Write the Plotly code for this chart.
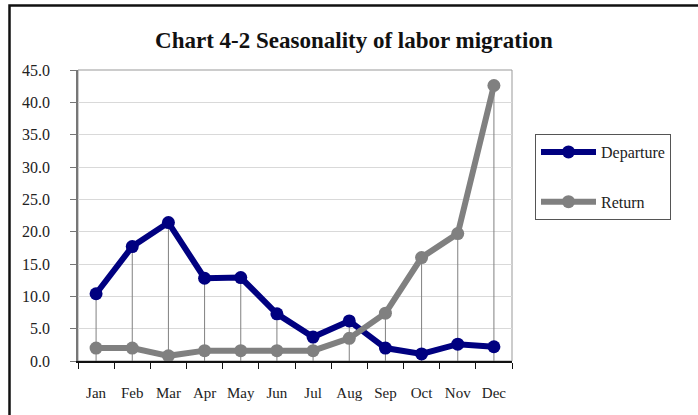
import plotly.graph_objects as go

months = ["Jan", "Feb", "Mar", "Apr", "May", "Jun", "Jul", "Aug", "Sep", "Oct", "Nov", "Dec"]
departure = [10.4, 17.7, 21.4, 12.8, 12.9, 7.3, 3.7, 6.2, 2.0, 1.1, 2.6, 2.2]
returns = [2.0, 2.0, 0.8, 1.6, 1.6, 1.6, 1.6, 3.5, 7.4, 16.0, 19.7, 42.6]
y_ticks = [0, 5, 10, 15, 20, 25, 30, 35, 40, 45]

W, H = 698, 415
L, R, T, B = 78, 512, 70, 361  # plot area in pixels

SERIF = "Liberation Serif, Times New Roman, serif"

# drop lines: from the x axis up to the higher of the two series
drop_x, drop_y = [], []
for m, d, r in zip(months, departure, returns):
    drop_x += [m, m, None]
    drop_y += [0, max(d, r), None]

fig = go.Figure()
fig.add_trace(go.Scatter(x=drop_x, y=drop_y, mode="lines",
                         line=dict(color="#808080", width=1),
                         showlegend=False, hoverinfo="skip"))
fig.add_trace(go.Scatter(x=months, y=departure, name="Departure",
                         legendgroup="dep", mode="lines+markers",
                         line=dict(color="#000080", width=6),
                         marker=dict(color="#000080", size=13)))
fig.add_trace(go.Scatter(x=months, y=returns, name="Return",
                         legendgroup="ret", mode="lines+markers",
                         line=dict(color="#808080", width=6),
                         marker=dict(color="#808080", size=13)))

def px_x(p):
    return (p - L) / (R - L)

def px_y(p):
    return (B - p) / (B - T)

fig.update_layout(
    width=W, height=H,
    margin=dict(l=L, r=W - R, t=T, b=H - B),
    paper_bgcolor="white", plot_bgcolor="white",
    font=dict(family=SERIF, size=15, color="#222"),
    title=dict(text="<b>Chart 4-2 Seasonality of labor migration</b>",
               x=0.507, xanchor="center", y=1 - 40 / H, yanchor="middle",
               font=dict(family=SERIF, size=23, color="#111")),
    xaxis=dict(type="category", categoryorder="array", categoryarray=months,
               range=[-0.5, 11.5], tickson="boundaries", ticks="outside",
               ticklen=6, tickcolor="#111", showline=True, linecolor="#111",
               linewidth=1.5, showgrid=False, ticklabelstandoff=17,
               tickangle=0, tickfont=dict(family=SERIF, size=15)),
    yaxis=dict(range=[0, 45], tickvals=y_ticks, tickformat=".1f",
               ticks="outside", ticklen=6, tickcolor="#777",
               showline=True, linecolor="#777", linewidth=1.5,
               gridcolor="#d9d9d9", gridwidth=1, zeroline=False,
               ticklabelstandoff=17, tickfont=dict(family=SERIF, size=16)),
    legend=dict(x=px_x(535), y=px_y(134), xanchor="left", yanchor="top",
                bordercolor="#555", borderwidth=1, bgcolor="white",
                font=dict(family=SERIF, size=16), tracegroupgap=26,
                itemwidth=55),
    shapes=[
        # plot area frame
        dict(type="rect", xref="paper", yref="paper", x0=0, x1=1, y0=0, y1=1,
             line=dict(color="#999", width=1), layer="below"),
        # outer chart border
        dict(type="rect", xref="paper", yref="paper",
             x0=px_x(9.5), x1=px_x(720), y0=px_y(440), y1=px_y(5.5),
             line=dict(color="#111", width=2.5)),
    ],
)

fig.write_html("out.html")
